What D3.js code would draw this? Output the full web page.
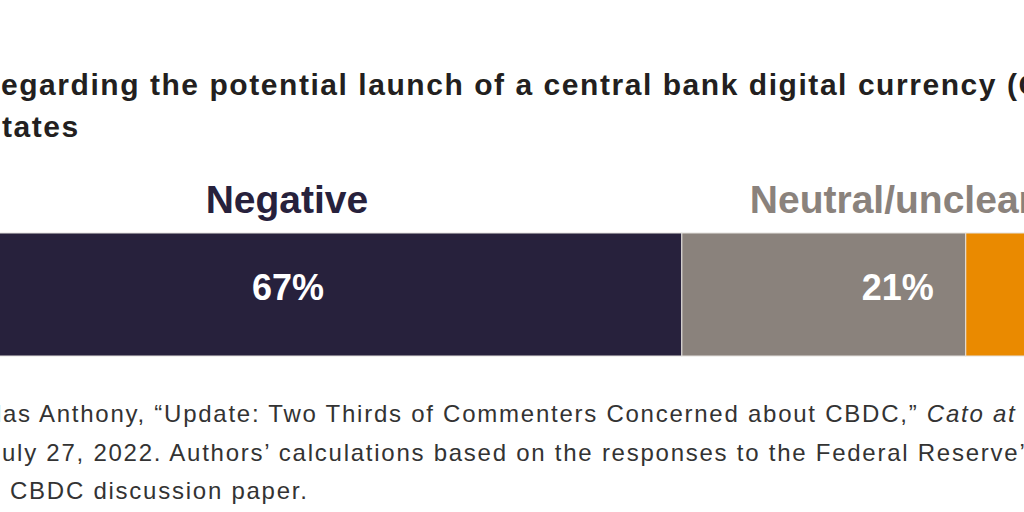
<!DOCTYPE html>
<html>
<head>
<meta charset="utf-8">
<script src="https://cdn.jsdelivr.net/npm/d3@7"></script>
<style>
  html, body { margin: 0; padding: 0; background: #fff; overflow: hidden; }
  svg { display: block; }
</style>
</head>
<body>
<svg></svg>
<script>
'use strict';

// chart values
var categories = ['Negative', 'Neutral/unclear', 'Positive'];
var shares = [67, 21, 12];
var colors = ['#27213c', '#8a827c', '#ea8a00'];

var titleLines = [
    'regarding the potential launch of a central bank digital currency (CBDC) in the United',
    'States'
];
var sourceLines = [
    'Nicholas Anthony, \u201cUpdate: Two Thirds of Commenters Concerned about CBDC,\u201d ',
    'July 27, 2022. Authors\u2019 calculations based on the responses to the Federal Reserve\u2019s',
    'CBDC discussion paper.'
];

function render() {
    var w = 1024;
    var h = 512;
    var d3 = window.d3;
    var font = '"Liberation Sans", Arial, sans-serif';

    var svg = d3.select('svg').attr('width', w).attr('height', h);

    // the view is a crop of a wider figure, so the bar runs off both edges
    var x = d3.scaleLinear().domain([0, 100]).range([-224, 1128]);
    var y = d3.scaleBand().domain(['bar']).range([233, 356]);

    var stack = [];
    var acc = 0;
    shares.forEach(function (v, i) {
        stack.push({ cat: categories[i], value: v, x0: acc, x1: acc + v, color: colors[i] });
        acc += v;
    });

    // label shifts from the segment centre (px)
    var catShift = [58, 68, 110];
    var pctShift = [59, 74, 110];

    function width(str, size, weight, spacing) {
        var t = svg.append('text')
            .attr('font-family', font).attr('font-size', size)
            .attr('font-weight', weight).attr('letter-spacing', spacing)
            .text(str);
        var len = t.node().getComputedTextLength();
        t.remove();
        return len;
    }

    // title
    var tSize = 30, tSpace = 1.55;
    var rw = width('r', tSize, 'bold', tSpace);
    var sw = width('S', tSize, 'bold', tSpace);
    svg.append('g').selectAll('text').data(titleLines).enter().append('text')
        .attr('x', function (d, i) { return i === 0 ? 1 - rw : 2 - sw; })
        .attr('y', function (d, i) { return 95 + i * 42; })
        .attr('font-family', font).attr('font-weight', 'bold').attr('font-size', tSize)
        .attr('letter-spacing', tSpace)
        .attr('fill', '#231f20')
        .text(function (d) { return d; });

    // bar segments
    var g = svg.append('g');
    g.selectAll('rect').data(stack).enter().append('rect')
        .attr('x', function (d) { return x(d.x0); })
        .attr('y', y('bar'))
        .attr('width', function (d) { return x(d.x1) - x(d.x0); })
        .attr('height', y.bandwidth())
        .attr('fill', function (d) { return d.color; })
        .attr('stroke', '#e4e1de')
        .attr('stroke-width', 1);

    // category labels above the bar
    g.selectAll('.cat').data(stack).enter().append('text')
        .attr('class', 'cat')
        .attr('x', function (d, i) { return x((d.x0 + d.x1) / 2) + catShift[i]; })
        .attr('y', 213)
        .attr('text-anchor', 'middle')
        .attr('font-family', font).attr('font-weight', 'bold').attr('font-size', 39)
        .attr('fill', function (d) { return d.color; })
        .text(function (d) { return d.cat; });

    // percentages inside the bar
    g.selectAll('.pct').data(stack).enter().append('text')
        .attr('class', 'pct')
        .attr('x', function (d, i) { return x((d.x0 + d.x1) / 2) + pctShift[i]; })
        .attr('y', 300)
        .attr('text-anchor', 'middle')
        .attr('font-family', font).attr('font-weight', 'bold').attr('font-size', 36)
        .attr('fill', '#fff')
        .text(function (d) { return d.value + '%'; });

    // source note
    var sSize = 24, sSpace = 1.75;
    var pw = width('Nichol', sSize, 'normal', sSpace);
    var jw = width('J', sSize, 'normal', sSpace);
    var src = svg.append('g')
        .attr('font-family', font).attr('font-size', sSize)
        .attr('letter-spacing', sSpace).attr('fill', '#333');

    var first = src.append('text').attr('x', 3 - pw).attr('y', 422);
    first.append('tspan').text(sourceLines[0]);
    first.append('tspan').attr('font-style', 'italic').text('Cato at Liberty');

    src.append('text').attr('x', 2 - jw).attr('y', 461).text(sourceLines[1]);
    src.append('text').attr('x', 10).attr('y', 499).text(sourceLines[2]);
}

render();
</script>
</body>
</html>
